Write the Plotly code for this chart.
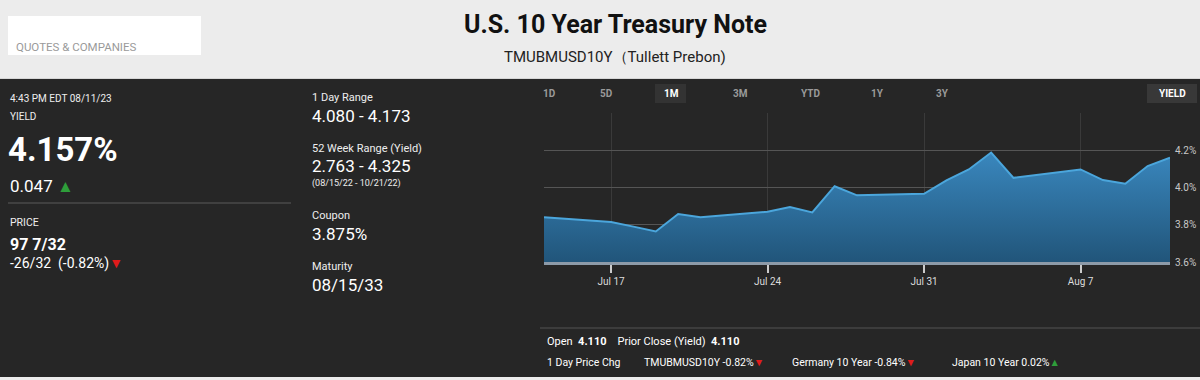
import plotly.graph_objects as go

# ---- data ----
dates = ["2023-07-14", "2023-07-17", "2023-07-18", "2023-07-19", "2023-07-20", "2023-07-21",
         "2023-07-24", "2023-07-25", "2023-07-26", "2023-07-27", "2023-07-28",
         "2023-07-31", "2023-08-01", "2023-08-02", "2023-08-03", "2023-08-04",
         "2023-08-07", "2023-08-08", "2023-08-09", "2023-08-10", "2023-08-11"]
yields = [3.84, 3.815, 3.79, 3.764, 3.858, 3.84,
          3.87, 3.895, 3.866, 4.007, 3.958,
          3.966, 4.038, 4.097, 4.188, 4.052,
          4.097, 4.04, 4.02, 4.115, 4.16]
x_tick_vals = ["2023-07-17", "2023-07-24", "2023-07-31", "2023-08-07"]
x_tick_text = ["Jul 17", "Jul 24", "Jul 31", "Aug 7"]
y_tick_vals = [3.6, 3.8, 4.0, 4.2, 4.4]
y_tick_text = ["3.6%", "3.8%", "4.0%", "4.2%", ""]
range_buttons = ["1D", "5D", "1M", "3M", "YTD", "1Y", "3Y"]
Y_MIN, Y_MAX = 3.6, 4.4

W, H = 1200, 380
FONT = "Roboto"
DARK = "#262626"
LIGHT = "#ececec"


def px(x):
    return x / W


def py(y):
    return 1 - y / H


fig = go.Figure()
fig.add_trace(go.Scatter(x=dates, y=[Y_MIN] * len(dates), mode="lines",
                         line=dict(width=0), hoverinfo="skip", showlegend=False))
fig.add_trace(go.Scatter(
    x=dates, y=yields, mode="lines", fill="tonexty",
    line=dict(color="#4ba6dc", width=2),
    fillgradient=dict(type="vertical", start=Y_MIN, stop=4.2,
                      colorscale=[[0, "#21557a"], [1, "#3a88bf"]]),
    showlegend=False))

shapes = []
shapes.append(dict(type="rect", xref="paper", yref="paper", x0=0, x1=1,
                   y0=py(377), y1=py(79), fillcolor=DARK, line=dict(width=0), layer="below"))
shapes.append(dict(type="line", xref="paper", yref="paper", x0=0, x1=1,
                   y0=py(78.5), y1=py(78.5), line=dict(color="#d6d6d6", width=1)))
shapes.append(dict(type="rect", xref="paper", yref="paper", x0=px(8), x1=px(201),
                   y0=py(55), y1=py(16), fillcolor="#ffffff", line=dict(width=0), layer="below"))
shapes.append(dict(type="line", xref="paper", yref="paper", x0=px(8), x1=px(291),
                   y0=py(203), y1=py(203), line=dict(color="#5a5a5a", width=1)))
shapes.append(dict(type="line", xref="paper", yref="paper", x0=px(540), x1=px(1200),
                   y0=py(328), y1=py(328), line=dict(color="#444444", width=1.5)))
shapes.append(dict(type="rect", xref="paper", yref="paper", x0=px(655), x1=px(686),
                   y0=py(103), y1=py(84), fillcolor="#333333", line=dict(width=0), layer="below"))
shapes.append(dict(type="rect", xref="paper", yref="paper", x0=px(1147), x1=px(1197),
                   y0=py(103), y1=py(84), fillcolor="#383838", line=dict(width=0), layer="below"))

ann = []


def text(x, y, s, size, color="#ffffff", anchor="left", family=FONT):
    ann.append(dict(x=px(x), y=py(y), xref="paper", yref="paper", text=s, showarrow=False,
                    xanchor=anchor, yanchor="middle",
                    font=dict(size=size, color=color, family=family)))


text(615, 25, "<b>U.S. 10 Year Treasury Note</b>", 25, "#111111", "center")
text(615, 57, "TMUBMUSD10Y（Tullett Prebon)", 15, "#222222", "center")
text(14, 47, "QUOTES &amp; COMPANIES", 11.5, "#9a9a9a")

text(8, 98, "4:43 PM EDT 08/11/23", 10, "#eeeeee")
text(8, 117, "YIELD", 10, "#eeeeee")
text(6, 149, "<b>4.157%</b>", 33, "#ffffff")
text(8, 186, "0.047 <span style='color:#2e9e3a'>▲</span>", 17, "#ffffff")
text(8, 222, "PRICE", 10.5, "#eeeeee")
text(8, 244, "<b>97 7/32</b>", 16, "#ffffff")
text(8, 263, "-26/32  (-0.82%)<span style='color:#e01b1b'>▼</span>", 14, "#ffffff")

text(310, 97, "1 Day Range", 11, "#eeeeee")
text(310, 116, "4.080 - 4.173", 17, "#ffffff")
text(310, 148, "52 Week Range (Yield)", 11, "#eeeeee")
text(310, 166, "2.763 - 4.325", 17, "#ffffff")
text(310, 183, "(08/15/22 - 10/21/22)", 9, "#eeeeee")
text(310, 215, "Coupon", 11, "#eeeeee")
text(310, 234, "3.875%", 17, "#ffffff")
text(310, 266, "Maturity", 11, "#eeeeee")
text(310, 285, "08/15/33", 17, "#ffffff")

btn_x = [541, 606, 671, 740, 810, 877, 942]
for b, bx in zip(range_buttons, btn_x):
    col = "#ffffff" if b == "1M" else "#9a9a9a"
    text(bx, 93, "<b>%s</b>" % b, 10, col, "center" if b != "1D" else "left")
text(1172, 93, "<b>YIELD</b>", 10, "#ffffff", "center")

text(545, 341, "Open  <b>4.110</b>    Prior Close (Yield)  <b>4.110</b>", 11, "#ffffff")
text(545, 362, "1 Day Price Chg", 10.5, "#ffffff")
text(642, 362, "TMUBMUSD10Y -0.82%<span style='color:#e01b1b'>▼</span>", 10.5, "#ffffff")
text(790, 362, "Germany 10 Year -0.84%<span style='color:#e01b1b'>▼</span>", 10.5, "#ffffff")
text(950, 362, "Japan 10 Year 0.02%<span style='color:#2e9e3a'>▲</span>", 10.5, "#ffffff")

fig.update_layout(
    width=W, height=H, margin=dict(l=0, r=0, t=0, b=0, autoexpand=False),
    paper_bgcolor=LIGHT, plot_bgcolor=DARK,
    shapes=shapes, annotations=ann, showlegend=False,
    xaxis=dict(type="date", range=["2023-07-14", "2023-08-11"],
               domain=[px(544), px(1170)],
               tickvals=x_tick_vals, ticktext=x_tick_text,
               ticks="outside", ticklen=8, tickwidth=1.5, tickcolor="#cccccc",
               showgrid=True, gridcolor="#3a3a3a", gridwidth=1,
               showline=True, linecolor="#8d9aa8", linewidth=3,
               tickfont=dict(size=10, color="#dddddd", family=FONT),
               zeroline=False, fixedrange=True),
    yaxis=dict(range=[Y_MIN, Y_MAX], side="right",
               domain=[py(262), py(113)],
               tickvals=y_tick_vals, ticktext=y_tick_text,
               showgrid=True, gridcolor="#555555", gridwidth=1,
               tickfont=dict(size=10, color="#c8c8c8", family=FONT),
               ticklabelstandoff=4,
               zeroline=False, showline=False, ticks="", fixedrange=True),
)

fig.write_html("out.html", post_script="document.body.style.margin='0';",
               config={"displayModeBar": False})
